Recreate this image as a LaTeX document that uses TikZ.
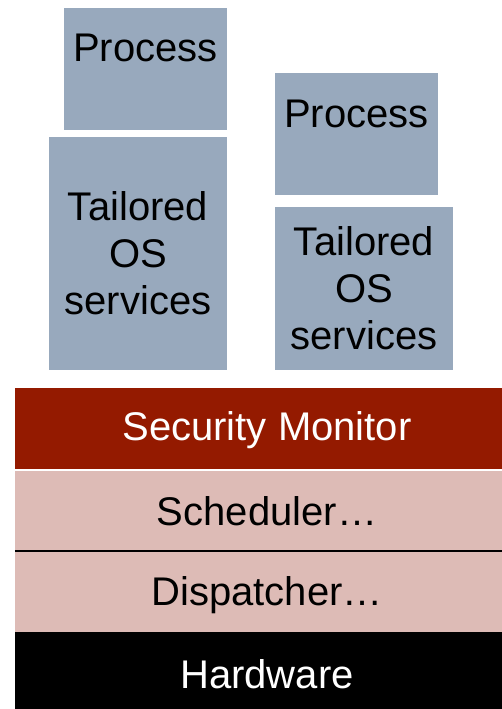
\documentclass[tikz,border=0pt]{standalone}
\usepackage{fontspec}
\setmainfont{Liberation Sans}
\definecolor{boxblue}{RGB}{152,169,189}
\definecolor{monred}{RGB}{148,26,0}
\definecolor{layerpink}{RGB}{221,187,182}
\begin{document}
\begin{tikzpicture}[x=1pt, y=-1pt,
  every node/.style={font=\fontsize{40}{47}\selectfont, inner sep=0pt},
  procbox/.style={fill=boxblue, text height=54pt, text depth=68pt},
  osbox/.style={fill=boxblue, align=center},
  layer/.style={minimum width=504pt, text height=28pt, text depth=0pt}]
  \useasboundingbox (0,0) rectangle (502,709);

  % Prozesse
  \node[procbox, minimum width=163pt, minimum height=122pt] (proc1) at (145.5,69) {Process};
  \node[procbox, minimum width=163pt, minimum height=122pt] (proc2) at (356.5,134) {Process};

  % OS-Dienste
  \node[osbox, minimum width=178pt, minimum height=233pt] (os1) at (138,253.5) {Tailored\\OS\\services};
  \node[osbox, minimum width=178pt, minimum height=163pt] (os2) at (364,288.5) {Tailored\\OS\\services};

  % Schichten
  \node[layer, fill=monred, text=white, minimum height=81pt, text height=24.5pt] (mon) at (267,428.5) {Security Monitor};
  \node[layer, fill=layerpink, minimum height=80pt] (sched) at (267,511) {Scheduler…};
  \node[layer, fill=layerpink, minimum height=81pt] (disp) at (267,591.5) {Dispatcher…};
  \node[layer, fill=black, text=white, minimum height=84pt] (hw) at (267,674) {Hardware};

  \draw[line width=1.5pt] (sched.south west) -- (sched.south east);
\end{tikzpicture}
\end{document}
